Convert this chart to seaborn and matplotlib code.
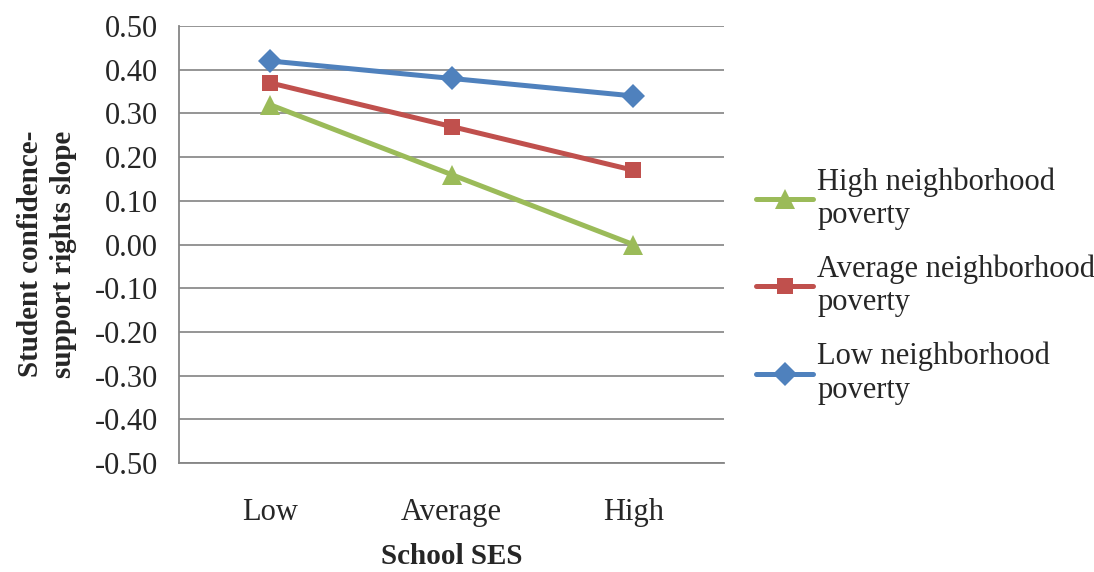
import matplotlib
matplotlib.use("Agg")
import matplotlib.pyplot as plt
import seaborn as sns
import pandas as pd

# School SES categories and predicted slopes for each neighborhood poverty level
ses_levels = ["Low", "Average", "High"]
high_poverty = [0.32, 0.16, 0.00]
average_poverty = [0.37, 0.27, 0.17]
low_poverty = [0.42, 0.38, 0.34]
series_names = ["High neighborhood\npoverty", "Average neighborhood\npoverty", "Low neighborhood\npoverty"]
y_ticks = [-0.5, -0.4, -0.3, -0.2, -0.1, 0.0, 0.1, 0.2, 0.3, 0.4, 0.5]

rows = []
for name, vals in zip(series_names, [high_poverty, average_poverty, low_poverty]):
    for i, (lvl, v) in enumerate(zip(ses_levels, vals)):
        rows.append({"pos": i, "ses": lvl, "slope": v, "series": name})
df = pd.DataFrame(rows)

sns.set_style("white")
plt.rcParams["font.family"] = ["Liberation Serif", "DejaVu Serif"]

FS = 22
palette = {series_names[0]: "#9BBB59", series_names[1]: "#C0504D", series_names[2]: "#4F81BD"}
markers = {series_names[0]: "^", series_names[1]: "s", series_names[2]: "D"}

fig = plt.figure(figsize=(10.94, 5.72), dpi=100)
ax = fig.add_axes([179 / 1094, 1 - 463 / 572, (724 - 179) / 1094, (463 - 26) / 572])

sns.lineplot(data=df, x="pos", y="slope", hue="series", style="series",
             hue_order=series_names, style_order=series_names,
             palette=palette, markers=markers, dashes=False,
             linewidth=3.6, markersize=12, markeredgewidth=0, ax=ax)

# triangles read a little larger than the other marker shapes
for line in ax.lines:
    if line.get_marker() == "^":
        line.set_markersize(15)

ax.set_xlim(-0.5, 2.5)
ax.set_ylim(-0.5, 0.5)
ax.set_yticks(y_ticks)
ax.set_yticklabels([f"{t:.2f}" for t in y_ticks], fontsize=FS)
ax.set_xticks(range(len(ses_levels)))
ax.set_xticklabels(ses_levels, fontsize=FS)
ax.set_xticks([-0.5, 0.5, 1.5, 2.5], minor=True)
ax.tick_params(axis="x", which="major", length=0, pad=25)
ax.tick_params(axis="x", which="minor", length=7, width=1.3, color="#868686", direction="out")
ax.tick_params(axis="y", which="major", length=7, width=1.3, color="#868686", direction="out", pad=8)

ax.grid(axis="y", color="#8c8c8c", linewidth=1.3)
ax.set_axisbelow(True)
for side in ["top", "right"]:
    ax.spines[side].set_visible(False)
for side in ["left", "bottom"]:
    ax.spines[side].set_color("#868686")
    ax.spines[side].set_linewidth(1.3)

ax.set_xlabel("School SES", fontsize=21, fontweight="bold")
ax.xaxis.set_label_coords(0.5, -0.183)
ax.set_ylabel("Student confidence-\nsupport rights slope", fontsize=21, fontweight="bold",
              linespacing=1.3)
ax.yaxis.set_label_coords(-0.187, 0.478)

handles, labels = ax.get_legend_handles_labels()
for h in handles:
    if h.get_marker() == "^":
        h.set_markersize(15)
leg = ax.legend(handles, labels, loc="center left", bbox_to_anchor=(1.037, 0.405), frameon=False,
                fontsize=FS, handlelength=1.85, handletextpad=0.15, labelspacing=0.8,
                borderaxespad=0)
for t in leg.get_texts():
    t.set_linespacing(1.2)

fig.savefig("out.png", dpi=100)
